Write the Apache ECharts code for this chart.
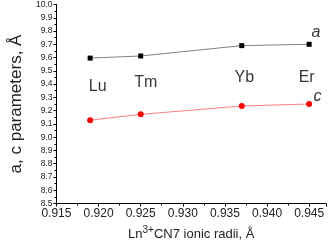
<!DOCTYPE html>
<html><head><meta charset="utf-8">
<script src="https://cdn.jsdelivr.net/npm/echarts@6/dist/echarts.min.js"></script>
<style>html,body{margin:0;padding:0;background:#fff}#c{width:331px;height:246px}</style>
</head><body><div id="c"></div>
<script>
var radii = [0.919, 0.925, 0.937, 0.945];
var aValues = [9.596, 9.612, 9.69, 9.70];
var cValues = [9.128, 9.172, 9.235, 9.25];
var elements = ['Lu', 'Tm', 'Yb', 'Er'];
var elementLabelX = [0.9199, 0.9256, 0.9373, 0.9447];
var elementLabelY = [9.38, 9.41, 9.45, 9.45];
var seriesNames = ['a', 'c'];
var seriesLabelX = [0.9458, 0.9460];
var seriesLabelY = [9.79, 9.305];

var chart = echarts.init(document.getElementById('c'), null, {renderer: 'canvas'});
var font = 'Liberation Sans, Arial, sans-serif';
chart.setOption({
  animation: false,
  grid: {left: 53, top: 4, right: 5, bottom: 39},
  xAxis: {
    type: 'value', min: 0.915, max: 0.947, interval: 0.005,
    name: 'Ln{sup|3+}CN7 ionic radii, Å', nameLocation: 'middle', nameGap: 22,
    nameTextStyle: {fontFamily: font, fontSize: 13, color: '#222',
      rich: {sup: {fontFamily: font, fontSize: 10, color: '#222', verticalAlign: 'top', padding: [0, 0, 8, 0]}}},
    axisLine: {onZero: false, lineStyle: {color: '#000', width: 1}},
    axisTick: {show: true, inside: false, length: 3, lineStyle: {color: '#000'}},
    minorTick: {show: true, splitNumber: 2, length: 2, lineStyle: {color: '#000'}},
    splitLine: {show: false},
    axisLabel: {fontFamily: font, fontSize: 12, color: '#222', margin: 4,
      showMaxLabel: false,
      formatter: function (v) { return v.toFixed(3); }}
  },
  yAxis: {
    type: 'value', min: 8.5, max: 10.0, interval: 0.1,
    name: 'a, c parameters, Å', nameLocation: 'middle', nameGap: 29,
    nameTextStyle: {fontFamily: font, fontSize: 17, color: '#222'},
    axisLine: {show: true, lineStyle: {color: '#000', width: 1}},
    axisTick: {show: true, inside: false, length: 3, lineStyle: {color: '#000'}},
    minorTick: {show: true, splitNumber: 2, length: 2, lineStyle: {color: '#000'}},
    splitLine: {show: false},
    axisLabel: {fontFamily: font, fontSize: 8.5, color: '#222', margin: 4,
      formatter: function (v) { return v.toFixed(1); }}
  },
  series: [
    {type: 'line', data: radii.map(function (x, i) { return [x, aValues[i]]; }),
     symbol: 'rect', symbolSize: 5,
     itemStyle: {color: '#000'}, lineStyle: {color: '#808080', width: 1}},
    {type: 'line', data: radii.map(function (x, i) { return [x, cValues[i]]; }),
     symbol: 'circle', symbolSize: 6,
     itemStyle: {color: '#ff0000'}, lineStyle: {color: '#ff8080', width: 1}},
    {type: 'scatter', symbolSize: 0, silent: true,
     data: elements.map(function (e, i) { return {value: [elementLabelX[i], elementLabelY[i]], name: e}; }),
     label: {show: true, position: 'inside', formatter: '{b}', fontFamily: font, fontSize: 16, color: '#000'}},
    {type: 'scatter', symbolSize: 0, silent: true,
     data: seriesNames.map(function (e, i) { return {value: [seriesLabelX[i], seriesLabelY[i]], name: e}; }),
     label: {show: true, position: 'inside', formatter: '{b}', fontFamily: font, fontSize: 16, fontStyle: 'italic', color: '#000'}}
  ]
});
</script></body></html>
